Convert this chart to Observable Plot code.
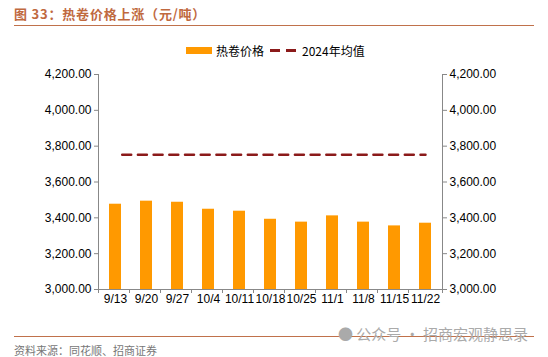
<!DOCTYPE html>
<html>
<head>
<meta charset="utf-8">
<script src="https://cdn.jsdelivr.net/npm/d3@7"></script>
<script src="https://cdn.jsdelivr.net/npm/@observablehq/plot@0.6"></script>
<style>
  html, body { margin: 0; padding: 0; background: #fff; }
  #wrap { position: relative; width: 548px; height: 357px; overflow: hidden; font-family: "Liberation Sans", Arial, sans-serif; }
  #wrap svg { position: absolute; left: 0; top: 0; }
  .title { position: absolute; left: 14px; top: 6px; line-height: 16px; font: bold 13px/16px "Noto Sans CJK SC", sans-serif; letter-spacing: 0.8px; color: #C0693F; white-space: nowrap; }
  .hline { position: absolute; left: 14px; width: 520px; height: 0; border-top: 1px solid #C0714B; }
  .legend { position: absolute; top: 41px; left: 186px; height: 18px; display: flex; align-items: center; font: 12px "Noto Sans CJK SC", sans-serif; color: #000; white-space: nowrap; }
  .sw-bar { width: 26px; height: 7px; background: #FF9900; margin-right: 4px; }
  .sw-line { width: 26px; height: 3px; margin-left: 6px; margin-right: 6px; background: repeating-linear-gradient(90deg, #8B1A1A 0 10px, transparent 10px 16px); }
  .src { position: absolute; left: 14px; top: 344px; font: 11px/13px "Noto Sans CJK SC", sans-serif; color: #777; white-space: nowrap; }
  .wm { position: absolute; left: 338px; top: 325px; font: 15px/18px "Noto Sans CJK SC", sans-serif; color: #aaa; white-space: nowrap; }
</style>
</head>
<body>
<div id="wrap">
  <div class="title">图 33：热卷价格上涨（元/吨）</div>
  <div class="hline" style="top:25px"></div>
  <div class="legend"><div class="sw-bar"></div><span>热卷价格</span><div class="sw-line"></div><span>2024年均值</span></div>
  <div class="hline" style="top:336px"></div>
  <div class="src">资料来源：同花顺、招商证券</div>
  <div class="wm">● 公众号 · 招商宏观静思录</div>
</div>
<script>
const dates = ["9/13","9/20","9/27","10/4","10/11","10/18","10/25","11/1","11/8","11/15","11/22"];
const prices = [3476, 3493, 3487, 3448, 3437, 3392, 3376, 3411, 3376, 3355, 3370];
const mean2024 = 3752;
const yTicks = [3000, 3200, 3400, 3600, 3800, 4000, 4200];

const barData = dates.map((d, i) => ({date: d, price: prices[i]}));
const meanData = dates.map(d => ({date: d, value: mean2024}));

const axisColor = "#888";

function frameAxes(index, scales, values, dimensions) {
  const {width, height, marginLeft, marginRight, marginBottom} = dimensions;
  const x0 = marginLeft, x1 = width - marginRight, yb = height - marginBottom;
  const step = scales.x(dates[1]) - scales.x(dates[0]);
  const g = d3.create("svg:g").attr("stroke", axisColor).attr("stroke-width", 1).attr("fill", "none");
  g.append("line").attr("x1", x0 + 0.5).attr("x2", x0 + 0.5).attr("y1", dimensions.marginTop).attr("y2", yb + 4);
  g.append("line").attr("x1", x1 + 0.5).attr("x2", x1 + 0.5).attr("y1", dimensions.marginTop).attr("y2", yb + 4);
  g.append("line").attr("x1", x0).attr("x2", x1 + 1).attr("y1", yb + 0.5).attr("y2", yb + 0.5);
  for (let k = 1; k < dates.length; k++) {
    const xx = Math.round(x0 + k * step) + 0.5;
    g.append("line").attr("x1", xx).attr("x2", xx).attr("y1", yb).attr("y2", yb + 4);
  }
  return g.node();
}

const plot = Plot.plot({
  width: 548,
  height: 357,
  marginLeft: 98,
  marginRight: 106,
  marginTop: 74,
  marginBottom: 68,
  style: {fontFamily: "'Liberation Sans', Arial, sans-serif", fontSize: "12px", color: "#000", background: "transparent"},
  x: {domain: dates, paddingInner: 0.6, paddingOuter: 0.3},
  y: {domain: [3000, 4200]},
  marks: [
    Plot.barY(barData, {x: "date", y1: 3000, y2: "price", fill: "#FF9900"}),
    Plot.lineY(meanData, {x: "date", y: "value", stroke: "#8B1A1A", strokeWidth: 2.5, strokeDasharray: "9,6.7", strokeDashoffset: 9}),
    Plot.axisY({anchor: "left", ticks: yTicks, tickFormat: d3.format(",.2f"), tickSize: 4, tickPadding: 3, stroke: axisColor, fill: "#000", label: null, fontSize: 12}),
    Plot.axisY({anchor: "right", ticks: yTicks, tickFormat: d3.format(",.2f"), tickSize: 4, tickPadding: 3, stroke: axisColor, fill: "#000", label: null, fontSize: 12}),
    Plot.axisX({anchor: "bottom", tickSize: 0, tickPadding: 5, fill: "#000", label: null, fontSize: 12}),
    frameAxes
  ]
});
document.getElementById("wrap").prepend(plot);
</script>
</body>
</html>
